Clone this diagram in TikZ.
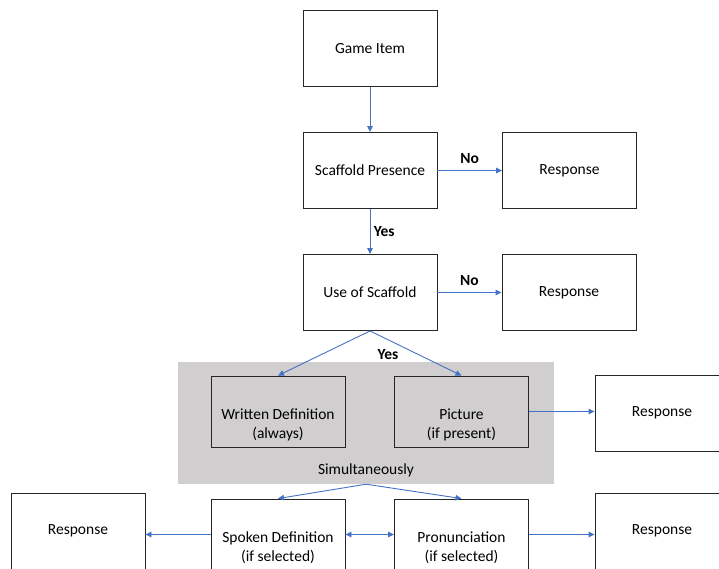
\documentclass[tikz,border=0pt]{standalone}
\usepackage{fontspec}
\setmainfont{Carlito}
\usetikzlibrary{positioning,arrows.meta}
\definecolor{flowblue}{HTML}{4472C4}
\definecolor{panelgray}{HTML}{D0CECE}
\tikzset{
  box/.style={draw=black!85,line width=0.9pt,minimum width=134pt,minimum height=76pt,inner sep=0pt,align=center},
  lowbox/.style={box,minimum height=71pt,text height=58pt,text depth=5pt},
  flow/.style={color=flowblue,line width=0.9pt,->},
  cond/.style={text=black,font=\fontsize{15.5}{19}\selectfont\bfseries}
}

\begin{document}
\begin{tikzpicture}[node distance=122pt,on grid,auto,>={Triangle[length=6pt,width=5.5pt]},
    font=\fontsize{15.5}{19}\selectfont]
    \clip (0,0) rectangle (719pt,-568pt);
    \node[box] (game) at (370pt,-48.5pt) {Game Item};
    \node[box] (presence) [below=of game] {Scaffold Presence};
    \node[box] (resp1) [right=199.5pt of presence] {Response};
    \node[box] (use) [below=of presence] {Use of Scaffold};
    \node[box] (resp2) [right=199pt of use] {Response};
    % grey panel round the two scaffolds
    \node[fill=panelgray,minimum width=376pt,minimum height=122pt] (sim) at (366pt,-423pt) {};
    \node (simtext) [above=4pt of sim.south] {Simultaneously};
    \node[lowbox] (written) [below left=119pt and 92pt of use] {Written Definition\\(always)};
    \node[lowbox] (picture) [below right=119pt and 91.5pt of use] {Picture\\(if present)};
    \node[box] (resp3) [right=200.5pt of picture,yshift=-1.5pt] {Response};
    \node[cond] (yes) [below right=15pt and 4pt of use.south] {Yes};
    \node[lowbox] (spoken) [below=123pt of written] {Spoken Definition\\(if selected)};
    \node[lowbox] (pron) [below=123pt of picture] {Pronunciation\\(if selected)};
    \node[box] (resp4) [left=200pt of spoken,yshift=3.5pt] {Response};
    \node[box] (resp5) [right=200.5pt of pron,yshift=3.5pt] {Response};
    \path[flow]
        (game) edge (presence)
        (presence) edge node[cond,above=3pt] {No} (resp1)
                   edge node[cond] {Yes} (use)
        (use) edge node[cond,above=3pt] {No} (resp2)
        (use.south) edge (written.north)
                    edge (picture.north)
        (picture.east) edge (picture.east -| resp3.west)
        (sim.south) edge (spoken.north)
                    edge (pron.north)
        (spoken) edge[<->] (pron)
        (spoken.west) edge (spoken.west -| resp4.east)
        (pron.east) edge (pron.east -| resp5.west);
\end{tikzpicture}
\end{document}
